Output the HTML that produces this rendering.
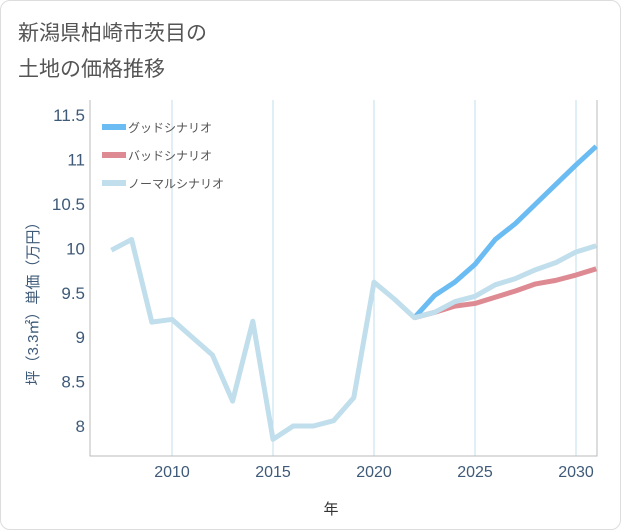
<!DOCTYPE html>
<html><head><meta charset="utf-8"><style>
body{margin:0;background:#fff;font-family:"Liberation Sans","Noto Sans CJK JP",sans-serif;}
.card{position:absolute;left:0;top:0;width:619px;height:528px;border:1px solid #ddd;border-radius:10px;background:#fff;}
</style></head><body>
<div class="card">
<svg width="621" height="530" id="svg" style="position:absolute;left:-1px;top:-1px">
<text x="18" y="40" font-size="21" fill="#555">新潟県柏崎市茨目の</text>
<text x="18" y="76" font-size="21" fill="#555">土地の価格推移</text>
<g id="plot"></g>
<text x="331" y="514" font-size="15" fill="#333" text-anchor="middle">年</text>
<text transform="translate(38,300) rotate(-90)" font-size="15" fill="#3e5a78" text-anchor="middle">坪（3.3㎡）単価（万円）</text>
</svg></div>
<script>
const years=[2007,2008,2009,2010,2011,2012,2013,2014,2015,2016,2017,2018,2019,2020,2021,2022,2023,2024,2025,2026,2027,2028,2029,2030,2031];
const normal=[9.98,10.1,9.17,9.2,9.0,8.8,8.28,9.18,7.85,8.0,8.0,8.06,8.32,9.62,9.43,9.22,9.28,9.4,9.46,9.59,9.66,9.76,9.84,9.96,10.03];
const fYears=[2022,2023,2024,2025,2026,2027,2028,2029,2030,2031];
const good=[9.22,9.47,9.62,9.82,10.1,10.28,10.5,10.72,10.94,11.15];
const bad=[9.22,9.28,9.35,9.38,9.45,9.52,9.6,9.64,9.7,9.77];
const yTicks=[8,8.5,9,9.5,10,10.5,11,11.5];
const xTicks=[2010,2015,2020,2025,2030];
const X=v=>172+(v-2010)*20.2, Y=v=>426-(v-8)*88.8;
const ns="http://www.w3.org/2000/svg", g=document.getElementById('plot');
function mk(t,a,txt){const e=document.createElementNS(ns,t);for(const k in a)e.setAttribute(k,a[k]);if(txt)e.textContent=txt;g.appendChild(e);return e;}
const bg=mk('rect',{x:90,y:100,width:507,height:356,fill:'#fff',stroke:'none'});

xTicks.forEach(t=>{const l=mk('line',{x1:X(t),x2:X(t),y1:100,y2:456,stroke:'#c2dcec','stroke-width':1});

const s=mk('text',{x:X(t),y:477,'font-size':16,fill:'#3e5a78','text-anchor':'middle'},String(t));
});
yTicks.forEach(t=>{const s=mk('text',{x:85,y:Y(t)+6,'font-size':17,fill:'#3e5a78','text-anchor':'end'},String(t));
});
const ax=mk('path',{d:'M90 100 V456 H597 V100',fill:'none',stroke:'#bbb','stroke-width':1});

function line(xs,vs,c,name){const p=mk('polyline',{points:xs.map((x,i)=>X(x)+','+Y(vs[i])).join(' '),fill:'none',stroke:c,'stroke-width':5,'stroke-linejoin':'round'});
}
line(fYears,good,'#6bbcf2','good-scenario-line');
line(fYears,bad,'#de8a93','bad-scenario-line');
line(years,normal,'#c0deeb','normal-scenario-line');
[['グッドシナリオ','#6bbcf2'],['バッドシナリオ','#de8a93'],['ノーマルシナリオ','#c0deeb']].forEach((d,i)=>{
const y=127+i*28;const l=mk('line',{x1:102,x2:126,y1:y,y2:y,stroke:d[1],'stroke-width':6});

const t=mk('text',{x:128,y:y+5,'font-size':12,fill:'#555'},d[0]);
});
</script></body></html>
